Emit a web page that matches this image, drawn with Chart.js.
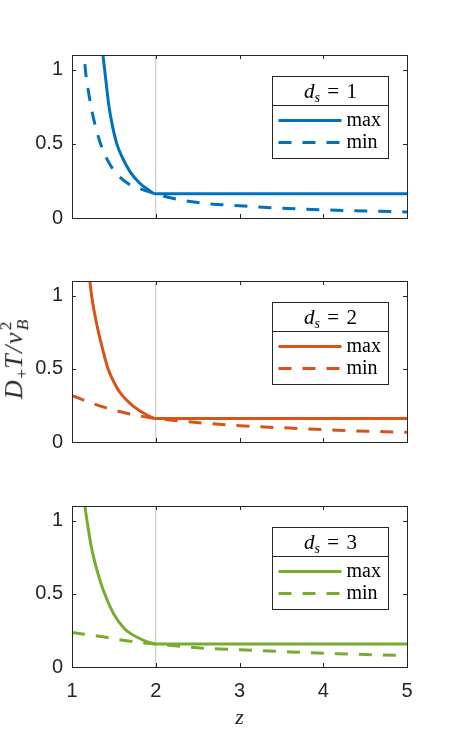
<!DOCTYPE html>
<html>
<head>
<meta charset="utf-8">
<script src="https://cdn.jsdelivr.net/npm/chart.js@4.4.1/dist/chart.umd.min.js"></script>
<style>
  html, body { margin: 0; padding: 0; background: #ffffff; }
  body { width: 450px; height: 750px; position: relative; overflow: hidden; }
  canvas { position: absolute; left: 0; }
  #ylab {
    position: absolute; left: 16px; top: 358px;
    transform: translate(-50%, -50%) rotate(-90deg);
    font-family: "Liberation Serif", "DejaVu Serif", serif; font-style: italic;
    font-size: 26px; color: #262626; white-space: nowrap; line-height: 1;
    letter-spacing: 1.5px;
  }
  #ylab .sub { font-size: 0.68em; vertical-align: -0.28em; font-style: normal; letter-spacing: 0; }
  #ylab .ss { display: inline-block; position: relative; width: 0.55em; height: 0; vertical-align: baseline; }
  #ylab .ss span { position: absolute; left: 0.05em; font-size: 0.68em; line-height: 1; letter-spacing: 0; }
  #ylab .ss .sp { top: -1.4em; font-style: normal; }
  #ylab .ss .sb { top: -0.45em; }
</style>
</head>
<body>
<canvas id="c1" width="450" height="250" style="top:0px"></canvas>
<canvas id="c2" width="450" height="225" style="top:250px"></canvas>
<canvas id="c3" width="450" height="275" style="top:475px"></canvas>
<div id="ylab">D<span class="sub">+</span>T/v<span class="ss"><span class="sp">2</span><span class="sb">B</span></span></div>
<script>
// ---------- data ----------
const zTicks = [1, 2, 3, 4, 5];
const yTicks = [0, 0.5, 1];
const zRef = 2;
const dsValues = [1, 2, 3];
const seriesNames = ['max', 'min'];
const xTitle = 'z';

// d_s = 1
const zMax1 = [1.345, 1.37, 1.39, 1.44, 1.48, 1.535, 1.6, 1.69, 1.8, 1.9, 2, 5];
const max1  = [1.25, 1.1, 1.0, 0.76, 0.63, 0.5, 0.41, 0.315, 0.24, 0.195, 0.163, 0.163];
const zMin1 = [1.135, 1.146, 1.16, 1.2, 1.25, 1.33, 1.39, 1.45, 1.53, 1.69, 1.85, 2, 2.2, 2.5, 3, 3.5, 4, 4.5, 5];
const min1  = [1.2, 1.1, 1.0, 0.84, 0.69, 0.52, 0.43, 0.365, 0.3, 0.225, 0.19, 0.163, 0.133, 0.104, 0.082, 0.066, 0.055, 0.047, 0.041];

// d_s = 2
const zMax2 = [1.2, 1.214, 1.234, 1.29, 1.35, 1.43, 1.5, 1.57, 1.73, 1.89, 2, 5];
const max2  = [1.2, 1.1, 1.0, 0.82, 0.67, 0.5, 0.41, 0.34, 0.245, 0.186, 0.16, 0.16];
const zMin2 = [1, 1.37, 1.65, 1.89, 2, 2.2, 2.56, 3, 3.6, 4.17, 5];
const min2  = [0.316, 0.24, 0.197, 0.17, 0.16, 0.148, 0.13, 0.111, 0.095, 0.08, 0.066];

// d_s = 3
const zMax3 = [1.14, 1.155, 1.179, 1.238, 1.33, 1.39, 1.5, 1.63, 1.79, 1.91, 2, 5];
const max3  = [1.2, 1.1, 1.0, 0.8, 0.6, 0.5, 0.36, 0.26, 0.2, 0.17, 0.157, 0.157];
const zMin3 = [1, 1.37, 1.65, 1.93, 2, 2.29, 2.56, 3, 3.6, 4.17, 5];
const min3  = [0.236, 0.206, 0.179, 0.16, 0.157, 0.141, 0.128, 0.118, 0.103, 0.091, 0.078];

// ---------- styling ----------
const lineColors = ['#0072BD', '#D95319', '#77AC30'];
const axisColor = '#262626';
const refColor = '#c4c4c4';
const sansFont = '"Liberation Sans", Arial, sans-serif';
const serifFont = '"Liberation Serif", "DejaVu Serif", serif';
const dashPattern = [13, 11];

function zip(xs, ys) { return xs.map((x, i) => ({ x: x, y: ys[i] })); }

const framePlugin = {
  id: 'frame',
  afterDatasetsDraw(chart) {
    const { ctx, chartArea: a, scales } = chart;
    ctx.save();
    ctx.strokeStyle = axisColor;
    ctx.lineWidth = 1;
    ctx.strokeRect(Math.round(a.left) + 0.5, Math.round(a.top) + 0.5,
                   Math.round(a.right - a.left), Math.round(a.bottom - a.top));
    const tl = 4;
    ctx.beginPath();
    scales.x.ticks.forEach(t => {
      const px = Math.round(scales.x.getPixelForValue(t.value)) + 0.5;
      ctx.moveTo(px, a.bottom); ctx.lineTo(px, a.bottom - tl);
      ctx.moveTo(px, a.top); ctx.lineTo(px, a.top + tl);
    });
    scales.y.ticks.forEach(t => {
      const py = Math.round(scales.y.getPixelForValue(t.value)) + 0.5;
      ctx.moveTo(a.left, py); ctx.lineTo(a.left + tl, py);
      ctx.moveTo(a.right, py); ctx.lineTo(a.right - tl, py);
    });
    ctx.stroke();
    ctx.restore();
  }
};

const boxLegendPlugin = {
  id: 'boxLegend',
  afterDraw(chart, args, opts) {
    const { ctx, chartArea: a } = chart;
    const w = 116, h = 82, hh = 29;
    const x0 = Math.round(a.right - 135) + 0.5;
    const y0 = Math.round(a.top + 21) + 0.5;
    ctx.save();
    ctx.fillStyle = '#ffffff';
    ctx.fillRect(x0, y0, w, h);
    ctx.strokeStyle = axisColor;
    ctx.lineWidth = 1;
    ctx.strokeRect(x0, y0, w, h);
    ctx.beginPath(); ctx.moveTo(x0, y0 + hh); ctx.lineTo(x0 + w, y0 + hh); ctx.stroke();
    // header: d_s = n
    ctx.fillStyle = '#000000';
    ctx.textBaseline = 'alphabetic';
    const f1 = 'italic 21px ' + serifFont, f2 = 'italic 14px ' + serifFont, f3 = '21px ' + serifFont;
    ctx.font = f1; const w1 = ctx.measureText('d').width;
    ctx.font = f2; const w2 = ctx.measureText('s').width;
    const rest = ' = ' + opts.value;
    ctx.font = f3; const w3 = ctx.measureText(rest).width + 4;
    let tx = x0 + w / 2 - (w1 + w2 + w3) / 2;
    const by = y0 + 21;
    ctx.font = f1; ctx.fillText('d', tx, by); tx += w1;
    ctx.font = f2; ctx.fillText('s', tx, by + 4); tx += w2 + 2;
    ctx.font = f3;
    ctx.fillText('=', tx + ctx.measureText(' ').width, by);
    ctx.fillText(String(opts.value), tx + w3 - 4 - ctx.measureText(String(opts.value)).width + 2, by);
    // rows
    const rows = [{ y: y0 + 44, dash: [] }, { y: y0 + 66, dash: dashPattern }];
    rows.forEach((r, i) => {
      ctx.strokeStyle = opts.color;
      ctx.lineWidth = 3;
      ctx.setLineDash(r.dash);
      ctx.beginPath(); ctx.moveTo(x0 + 6, r.y); ctx.lineTo(x0 + 69, r.y); ctx.stroke();
      ctx.setLineDash([]);
      ctx.fillStyle = '#000000';
      ctx.font = '20px ' + serifFont;
      ctx.fillText(seriesNames[i], x0 + 74, r.y + 5);
    });
    ctx.restore();
  }
};

function makeChart(id, k, zMax, vMax, zMin, vMin, cfg) {
  const color = lineColors[k];
  return new Chart(document.getElementById(id), {
    type: 'line',
    data: {
      datasets: [
        { label: seriesNames[0], data: zip(zMax, vMax), borderColor: color, borderWidth: 3,
          pointRadius: 0, cubicInterpolationMode: 'monotone', fill: false, order: 1 },
        { label: seriesNames[1], data: zip(zMin, vMin), borderColor: color, borderWidth: 3,
          borderDash: dashPattern, pointRadius: 0, cubicInterpolationMode: 'monotone', fill: false, order: 2 },
        { label: 'ref', data: [{ x: zRef, y: 0 }, { x: zRef, y: 1.1 }], borderColor: refColor,
          borderWidth: 1, pointRadius: 0, fill: false, order: 3 }
      ]
    },
    options: {
      responsive: false,
      animation: false,
      events: [],
      layout: { padding: { left: 32, right: 43, top: cfg.top, bottom: cfg.bottom } },
      plugins: {
        legend: { display: false },
        tooltip: { enabled: false },
        boxLegend: { value: dsValues[k], color: color }
      },
      scales: {
        x: {
          type: 'linear', min: 1, max: 5,
          afterBuildTicks: s => { s.ticks = zTicks.map(v => ({ value: v })); },
          afterFit: s => { s.height = cfg.xh; },
          grid: { display: false, drawTicks: false },
          border: { display: false },
          ticks: { display: cfg.showX, padding: 12, color: axisColor,
                   font: { family: sansFont, size: 20 }, maxRotation: 0, autoSkip: false,
                   callback: v => String(v) },
          title: { display: cfg.showX, text: xTitle, color: axisColor, padding: 0,
                   font: { family: serifFont, size: 22, style: 'italic' } }
        },
        y: {
          type: 'linear', min: 0, max: 1.1,
          afterBuildTicks: s => { s.ticks = yTicks.map(v => ({ value: v })); },
          afterFit: s => { s.width = 40; },
          grid: { display: false, drawTicks: false },
          border: { display: false },
          ticks: { padding: 9, color: axisColor, font: { family: sansFont, size: 20 },
                   callback: v => String(v) }
        }
      }
    },
    plugins: [framePlugin, boxLegendPlugin]
  });
}

makeChart('c1', 0, zMax1, max1, zMin1, min1, { top: 55, bottom: 32, xh: 0, showX: false });
makeChart('c2', 1, zMax2, max2, zMin2, min2, { top: 31, bottom: 33, xh: 0, showX: false });
makeChart('c3', 2, zMax3, max3, zMin3, min3, { top: 31, bottom: 19, xh: 64, showX: true });
</script>
</body>
</html>
